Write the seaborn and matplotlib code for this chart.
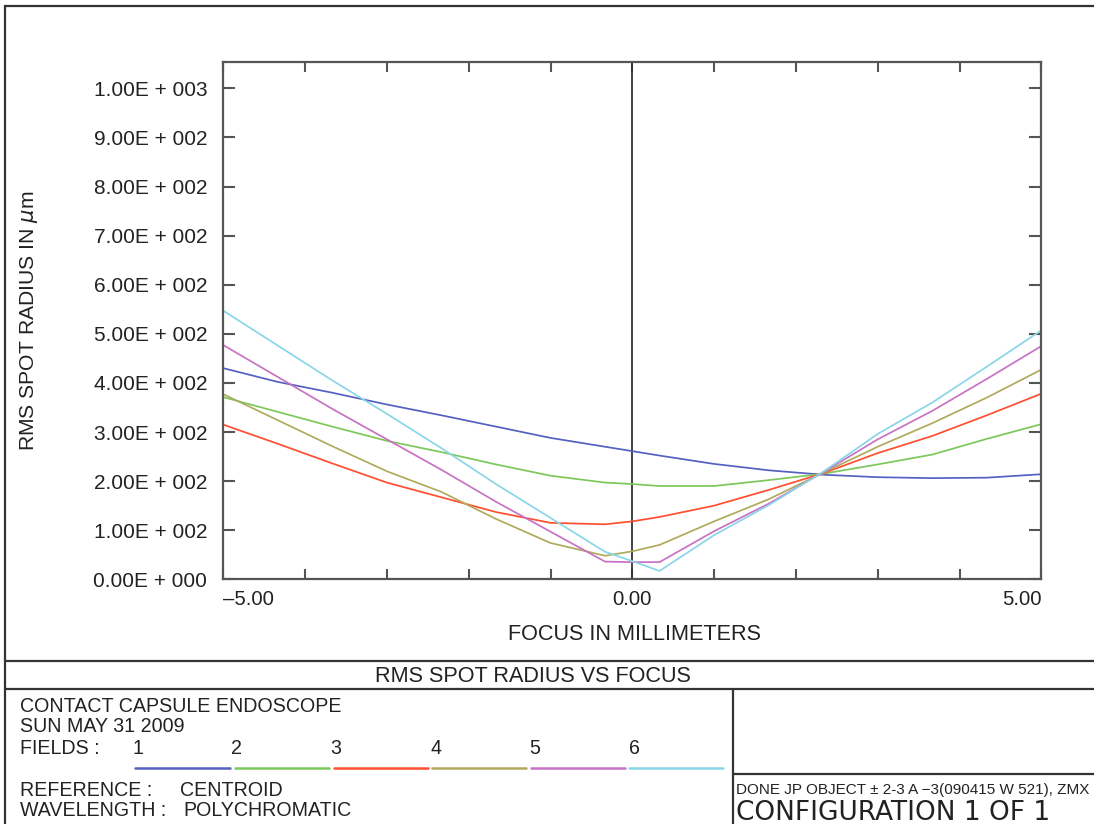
import matplotlib
matplotlib.use("Agg")
import numpy as np
import pandas as pd
import seaborn as sns
import matplotlib.pyplot as plt
import matplotlib.transforms as mtransforms
from matplotlib.lines import Line2D
from matplotlib import font_manager

# ---------------- data ----------------
focus_mm = [-5.0, -4.333, -3.667, -3.0, -2.333, -1.667, -1.0, -0.333, 0.0,
            0.333, 1.0, 1.667, 2.333, 3.0, 3.667, 4.333, 5.0]
field1 = [430, 402, 380, 356, 334, 311, 288, 270, 261, 252, 235, 222, 213, 208, 206, 207, 214]
field2 = [371, 341, 311, 282, 259, 234, 211, 197, 194, 190, 190, 202, 215, 234, 254, 286, 316]
field3 = [315, 276, 236, 197, 167, 137, 115, 112, 118, 127, 150, 182, 216, 257, 292, 334, 378]
field4 = [377, 324, 271, 220, 178, 123, 74, 48, 57, 70, 118, 163, 217, 270, 318, 370, 427]
field5 = [477, 412, 347, 285, 223, 158, 97, 36, 35, 35, 98, 154, 218, 285, 343, 408, 475]
field6 = [547, 476, 405, 337, 267, 194, 125, 56, 37, 17, 90, 151, 219, 296, 360, 433, 507]
field_names = ["1", "2", "3", "4", "5", "6"]
field_colors = ["#5560c0", "#7cc85a", "#ff4e30", "#b0aa5c", "#c872c4", "#8ad6e8"]

y_ticks = [0, 100, 200, 300, 400, 500, 600, 700, 800, 900, 1000]
y_ticklabels = ["0.00E + 000", "1.00E + 002", "2.00E + 002", "3.00E + 002",
                "4.00E + 002", "5.00E + 002", "6.00E + 002", "7.00E + 002",
                "8.00E + 002", "9.00E + 002", "1.00E + 003"]
x_ticks = [-5, 0, 5]
x_ticklabels = ["\u20135.00", "0.00", "5.00"]

# ---------------- style ----------------
sns.set_style("ticks")
plt.rcParams["font.family"] = ["Liberation Sans", "DejaVu Sans"]
plt.rcParams["mathtext.fontset"] = "dejavusans"

names = {f.name for f in font_manager.fontManager.ttflist}
has_narrow = "Liberation Sans Narrow" in names

W, H = 1094, 824
fig = plt.figure(figsize=(W / 100, H / 100), dpi=100)
fig.patch.set_facecolor("white")

def fx(px):
    return px / W

def fy(py):
    return 1 - py / H

ax_left, ax_right, ax_top, ax_bot = 223.3, 1041.3, 62.3, 579.3
ax = fig.add_axes([fx(ax_left), fy(ax_bot), fx(ax_right - ax_left), (ax_bot - ax_top) / H])

frames = []
for name, vals in zip(field_names, [field1, field2, field3, field4, field5, field6]):
    frames.append(pd.DataFrame({"focus": focus_mm, "rms": vals, "field": name}))
df = pd.concat(frames, ignore_index=True)

sns.lineplot(data=df, x="focus", y="rms", hue="field", hue_order=field_names,
             palette=field_colors, legend=False, linewidth=1.25, sort=False, ax=ax)

ax.axvline(0, color="#333333", lw=1.3, zorder=1)

ax.set_xlim(-5, 5)
ax.set_ylim(0, 1053)
ax.set_yticks(y_ticks)
ax.set_yticklabels(y_ticklabels, fontsize=15)
ax.set_xticks(x_ticks)
ax.set_xticklabels(x_ticklabels, fontsize=14.6)
ax.set_xticks(np.arange(-4, 5, 1), minor=True)
lbls = ax.get_xticklabels()
lbls[0].set_horizontalalignment("left")
lbls[0].set_transform(lbls[0].get_transform() +
                      mtransforms.ScaledTranslation(0.05, 0, fig.dpi_scale_trans))
lbls[2].set_horizontalalignment("right")

ax.tick_params(axis="both", which="both", direction="in", top=True, right=True,
               color="#555555", width=1.5)
ax.tick_params(axis="y", which="major", length=8.5, pad=11.5, labelcolor="#222222")
ax.tick_params(axis="x", which="both", length=7.5, pad=8, labelcolor="#222222")
for s in ax.spines.values():
    s.set_color("#555555")
    s.set_linewidth(1.6)

ax.set_xlabel("FOCUS IN MILLIMETERS", fontsize=15.6, color="#222222")
ax.xaxis.set_label_coords((635 - ax_left) / (ax_right - ax_left), (ax_bot - 624) / (ax_bot - ax_top))
ax.set_ylabel(r"RMS SPOT RADIUS IN $\mu$m", fontsize=15.2, color="#222222")
ax.yaxis.set_label_coords((40 - ax_left) / (ax_right - ax_left), 0.5)

# ---------------- title block frame ----------------
def hline(y, x0, x1, lw=1.6):
    fig.add_artist(Line2D([fx(x0), fx(x1)], [fy(y), fy(y)], color="#333333", lw=lw,
                          transform=fig.transFigure))

def vline(x, y0, y1, lw=1.6):
    fig.add_artist(Line2D([fx(x), fx(x)], [fy(y0), fy(y1)], color="#333333", lw=lw,
                          transform=fig.transFigure))

hline(6, 5, W)
vline(5, 6, H)
hline(661, 5, W)
hline(688.5, 5, W)
vline(733, 688.5, H)
hline(774, 733, W)

txt = dict(color="#222222", va="center")
fig.text(fx(533), fy(676), "RMS SPOT RADIUS VS FOCUS", fontsize=15.6, ha="center", **txt)
fig.text(fx(20), fy(707), "CONTACT CAPSULE ENDOSCOPE", fontsize=14.1, ha="left", **txt)
fig.text(fx(20), fy(727), "SUN MAY 31 2009", fontsize=14.1, ha="left", **txt)
fig.text(fx(20), fy(748), "FIELDS :", fontsize=14.1, ha="left", **txt)

num_x = [137.5, 237, 336, 436, 535, 634]
seg_x = [(135, 230), (235, 329), (334, 428), (432, 526), (531, 625), (629, 723)]
for name, col, nx, (s0, s1) in zip(field_names, field_colors, num_x, seg_x):
    fig.text(fx(nx), fy(748), name, fontsize=14.1, ha="center", **txt)
    fig.add_artist(Line2D([fx(s0), fx(s1)], [fy(768), fy(768)], color=col, lw=1.8,
                          transform=fig.transFigure))

fig.text(fx(20), fy(790), "REFERENCE :", fontsize=14.1, ha="left", **txt)
fig.text(fx(180), fy(790), "CENTROID", fontsize=14.1, ha="left", **txt)
fig.text(fx(20), fy(810), "WAVELENGTH :", fontsize=14.1, ha="left", **txt)
fig.text(fx(183), fy(810), "POLYCHROMATIC", fontsize=14.1, ha="left", **txt)

done = "DONE JP OBJECT \u00b1 2-3 A \u22123(090415 W 521), ZMX"
if has_narrow:
    fig.text(fx(736), fy(790), done, fontsize=13.2, ha="left",
             family=["Liberation Sans Narrow", "DejaVu Sans"], **txt)
else:
    fig.text(fx(736), fy(790), done, fontsize=11.0, ha="left", **txt)
fig.text(fx(736), fy(813), "CONFIGURATION 1 OF 1", fontsize=19, ha="left",
         family=["DejaVu Sans"], **txt)

fig.savefig("out.png", dpi=100, facecolor="white")
